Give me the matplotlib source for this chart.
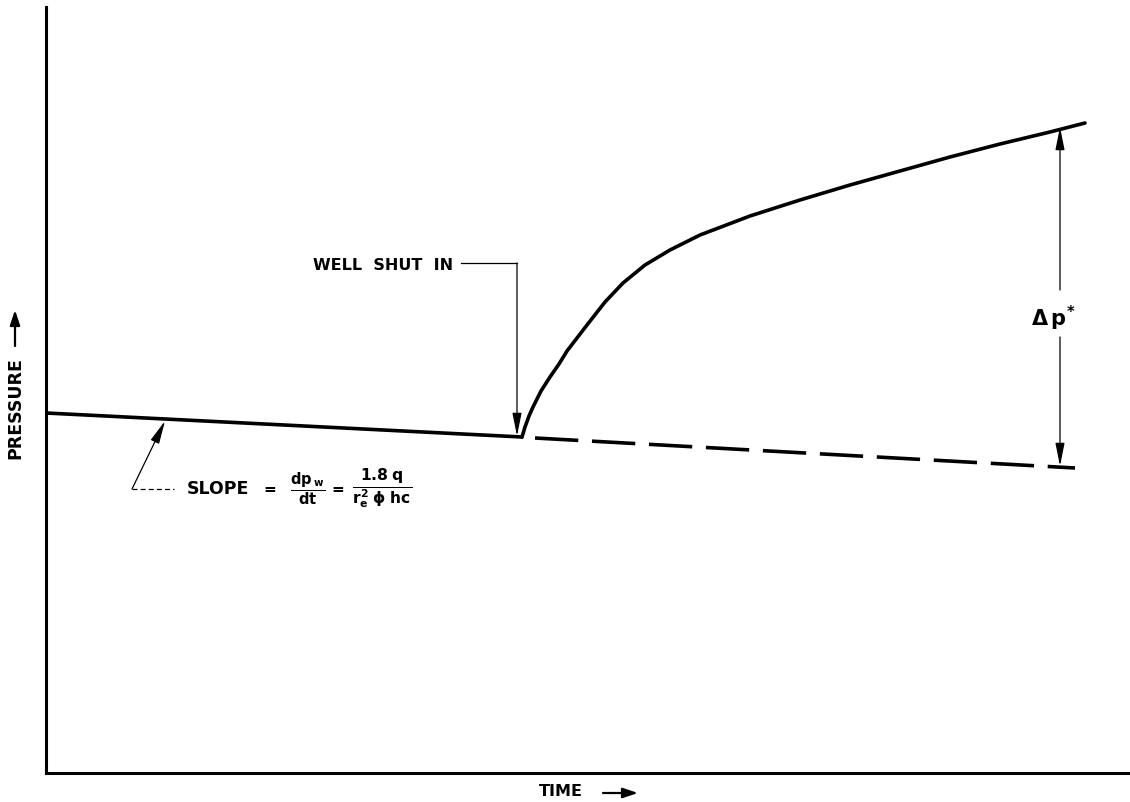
import matplotlib
matplotlib.use("Agg")
import matplotlib.pyplot as plt
from matplotlib.patches import FancyArrowPatch

plt.rcParams['font.family'] = ['DejaVu Sans']
plt.rcParams['mathtext.fontset'] = 'custom'
plt.rcParams['mathtext.rm'] = 'DejaVu Sans:bold'
plt.rcParams['mathtext.it'] = 'DejaVu Sans:bold'
plt.rcParams['mathtext.bf'] = 'DejaVu Sans:bold'

# ---- data (time, pressure in arbitrary chart units) ----
drawdown_time = [0, 476]
drawdown_pressure = [360, 336]

extrap_time = [489, 1029]
extrap_pressure = [335, 305]

buildup_time = [476, 479, 483, 487, 495, 504, 513, 521, 531, 541, 559, 577,
                599, 624, 654, 704, 754, 804, 854, 904, 954, 1004, 1039]
buildup_pressure = [336, 346, 357, 366, 382, 396, 409, 422, 435, 448, 471, 490,
                    508, 523, 538, 557, 573, 588, 602, 616, 629, 641, 650]

shut_in_time = 471
dp_time = 1014
dp_top = 646
dp_bottom = 307

XMAX, YMAX = 1082, 766

fig = plt.figure(figsize=(11.3, 8.02), dpi=100)
ax = fig.add_axes([46/1130, 29/802, 1082/1130, 766/802])
ax.set_xlim(0, XMAX)
ax.set_ylim(0, YMAX)
for s in ['top', 'right']:
    ax.spines[s].set_visible(False)
for s in ['left', 'bottom']:
    ax.spines[s].set_linewidth(2.2)
ax.set_xticks([])
ax.set_yticks([])

lw = 2.6
ax.plot(drawdown_time, drawdown_pressure, color='black', lw=lw, solid_capstyle='round')
ax.plot(buildup_time, buildup_pressure, color='black', lw=lw,
        solid_capstyle='round', solid_joinstyle='round')
ax.plot(extrap_time, extrap_pressure, color='black', lw=lw, dashes=(12, 3.8))

arrow = dict(arrowstyle='-|>,head_length=1.4,head_width=0.28', color='black',
             lw=0.9, mutation_scale=10, shrinkA=0, shrinkB=0)
small_arrow = dict(arrowstyle='-|>,head_length=0.9,head_width=0.3', color='black',
                   lw=1.6, mutation_scale=10, shrinkA=0, shrinkB=0)

# Well shut in
ax.text(267, 508, 'WELL  SHUT  IN', fontsize=11.5, fontweight='bold', ha='left', va='center')
ax.plot([415, shut_in_time], [510, 510], color='black', lw=0.9)
ax.annotate('', xy=(shut_in_time, 337), xytext=(shut_in_time, 510), arrowprops=arrow)

# Delta p*
ax.annotate('', xy=(dp_time, dp_top), xytext=(dp_time, 483), arrowprops=arrow)
ax.annotate('', xy=(dp_time, dp_bottom), xytext=(dp_time, 436), arrowprops=arrow)
ax.text(dp_time - 6, 455, r'$\Delta\,p^{*}$', fontsize=15, ha='center', va='center')

# Slope annotation
ax.annotate('', xy=(119, 352), xytext=(86, 284), arrowprops=arrow)
ax.plot([86, 128], [284, 284], color='black', lw=0.9, dashes=(4, 2.5))
ax.text(141, 284, 'SLOPE', fontsize=12.5, fontweight='bold', ha='left', va='center')
ax.text(224, 284, '=', fontsize=11, fontweight='bold', ha='center', va='center')
ax.text(262, 284, r'$\frac{dp_{\;w}}{dt}$', fontsize=15, ha='center', va='center')
ax.text(292, 284, '=', fontsize=11, fontweight='bold', ha='center', va='center')
ax.text(336, 284, r'$\frac{1.8\;q}{r_e^{2}\;\phi\;hc}$', fontsize=16, ha='center', va='center')

# Axis labels
fig.text(15/1130, 1 - 408/802, 'PRESSURE', rotation=90, fontsize=12.5, fontweight='bold',
         ha='center', va='center')
fig.add_artist(FancyArrowPatch(
    (15/1130, 1 - 346/802), (15/1130, 1 - 310/802), transform=fig.transFigure,
    **small_arrow))
fig.text(561/1130, 1 - 792/802, 'TIME', fontsize=11.5, fontweight='bold',
         ha='center', va='center')
fig.add_artist(FancyArrowPatch(
    (603/1130, 1 - 793/802), (638/1130, 1 - 793/802), transform=fig.transFigure,
    **small_arrow))

fig.savefig('out.png', dpi=100)
